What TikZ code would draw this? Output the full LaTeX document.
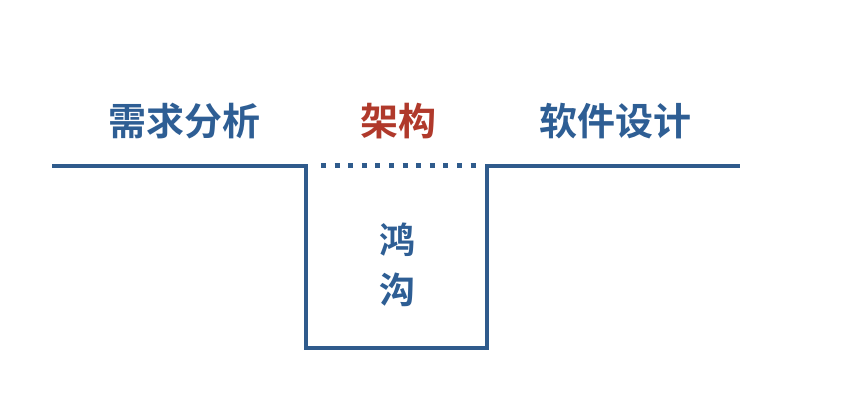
\documentclass[tikz,border=0pt]{standalone}
\usepackage{fontspec}
\newfontfamily\cjk{Noto Sans CJK SC Bold}
\definecolor{lineblue}{HTML}{2F5B8C}
\definecolor{textblue}{HTML}{2E5E94}
\definecolor{archred}{HTML}{B0392B}
\begin{document}
\begin{tikzpicture}[x=1pt,y=1pt,
  wall/.style={draw=lineblue,line width=4.6pt,line join=miter},
  gap/.style={draw=lineblue,line width=5pt,dash pattern=on 5pt off 8.6pt},
  phase/.style={font=\cjk\fontsize{38}{44}\selectfont,text=textblue,inner sep=0pt},
  hot/.style={phase,text=archred}]
\useasboundingbox (0,0) rectangle (860,410);
\fill[white] (0,0) rectangle (860,410);
% ground line with the trench in the middle
\coordinate (l0) at (52,244);
\coordinate (l1) at (306,244);
\coordinate (b0) at (306,62);
\coordinate (b1) at (487,62);
\coordinate (r1) at (487,244);
\coordinate (r0) at (740,244);
\draw[wall] (l0) -- (l1) -- (b0) -- (b1) -- (r1) -- (r0);
\coordinate (g0) at (321,244);
\coordinate (g1) at (478,244);
\draw[gap] (g0) -- (g1);
% labels
\node[phase] (req) at (184,289) {需求分析};
\node[hot] (arch) at (398,289) {架构};
\node[phase] (design) at (615,289) {软件设计};
\node[phase,font=\cjk\fontsize{36}{40}\selectfont] (hong) at (397,170) {鸿};
\node[phase,font=\cjk\fontsize{36}{40}\selectfont] (gou) at (397,120) {沟};
\end{tikzpicture}
\end{document}
